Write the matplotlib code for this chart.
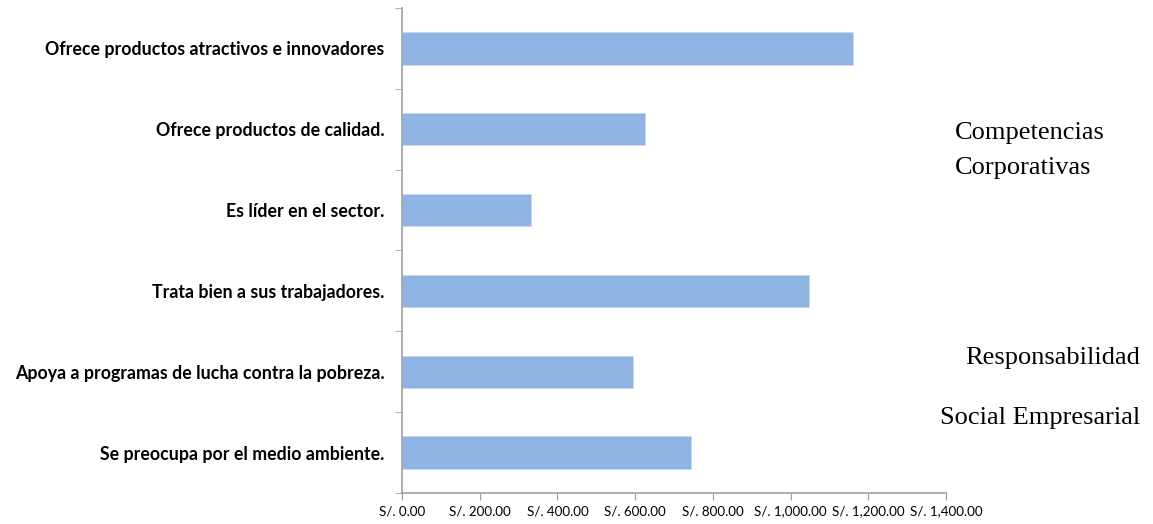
import matplotlib
matplotlib.use("Agg")
import matplotlib.pyplot as plt
from matplotlib.ticker import FuncFormatter, FixedLocator
import numpy as np

# data (top to bottom as in the picture)
categories = [
    "Ofrece productos atractivos e innovadores",
    "Ofrece productos de calidad.",
    "Es líder en el sector.",
    "Trata bien a sus trabajadores.",
    "Apoya a programas de lucha contra la pobreza.",
    "Se preocupa por el medio ambiente.",
]
values = [1161, 625, 332, 1048, 595, 744]
x_ticks = [0, 200, 400, 600, 800, 1000, 1200, 1400]

fig = plt.figure(figsize=(11.53, 5.24), dpi=100)
ax = fig.add_axes([0.3487, 0.0592, 0.4718, 0.9255])

pos = np.arange(len(categories))[::-1]
ax.barh(pos, values, height=0.4, color="#8EB4E3", edgecolor="#C6D9F1", linewidth=0.6)

ax.set_xlim(0, 1400)
ax.set_ylim(-0.5, len(categories) - 0.5)
ax.set_xticks(x_ticks)
ax.xaxis.set_major_formatter(FuncFormatter(lambda v, p: "S/. {:,.2f}".format(v)))

ax.set_yticks(pos)
ax.set_yticklabels(categories, fontsize=12.8, fontweight="bold", family="Lato")
ax.yaxis.set_minor_locator(FixedLocator(np.arange(-0.5, len(categories), 1.0)))
ax.tick_params(axis="y", which="major", length=0, pad=12.5)
ax.tick_params(axis="y", which="minor", length=5, color="#A0A0A0", direction="out")
ax.tick_params(axis="x", length=5, color="#A0A0A0", direction="out", labelsize=9.6, pad=4)
for lab in ax.get_xticklabels():
    lab.set_family("Lato")

for s in ["top", "right"]:
    ax.spines[s].set_visible(False)
for s in ["left", "bottom"]:
    ax.spines[s].set_color("#A0A0A0")
    ax.spines[s].set_linewidth(1.2)

# side notes
fig.text(955 / 1153, 1 - 133 / 524, "Competencias", fontsize=19, family="Liberation Serif", va="center", ha="left")
fig.text(955 / 1153, 1 - 168 / 524, "Corporativas", fontsize=19, family="Liberation Serif", va="center", ha="left")
fig.text(1140 / 1153, 1 - 358 / 524, "Responsabilidad", fontsize=19, family="Liberation Serif", va="center", ha="right")
fig.text(1140 / 1153, 1 - 418 / 524, "Social Empresarial", fontsize=19, family="Liberation Serif", va="center", ha="right")

fig.savefig("out.png", dpi=100)
